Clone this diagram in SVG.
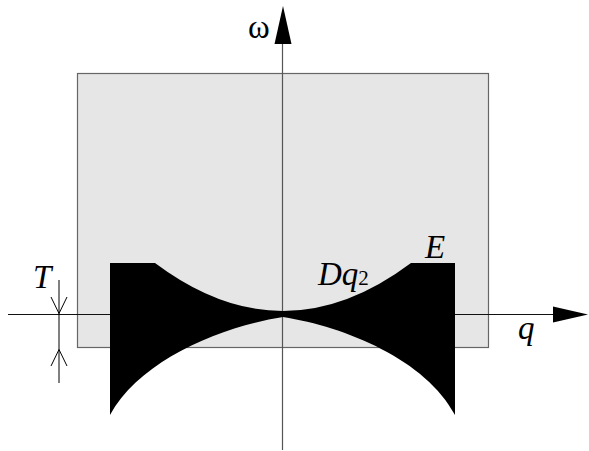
<svg xmlns="http://www.w3.org/2000/svg" width="589" height="451" viewBox="0 0 589 451">
<style>
.lbl{font-family:"Liberation Serif","Times New Roman",serif;font-style:italic;font-size:33px;fill:#000}
.up{font-family:"Liberation Serif","Times New Roman",serif;fill:#000}
.dim{stroke:#000;stroke-width:1;fill:none}
</style>
<rect width="589" height="451" fill="#fff"/>
<g id="region">
<rect x="77.5" y="73.5" width="411" height="274" fill="#e6e6e6" stroke="#666" stroke-width="1.2"/>
</g>
<g id="axes">
<line x1="8" y1="314.5" x2="556" y2="314.5" stroke="#111" stroke-width="1"/>
<polygon points="553,306.5 588,314.5 553,322.5" fill="#000"/>
<line x1="282.5" y1="450" x2="282.5" y2="40" stroke="#555" stroke-width="1.2"/>
<polygon points="283,6 274.5,44 291.5,44" fill="#000"/>
</g>
<g id="band">
<path d="M110,263 H155 Q219,311 283,311 Q347,311 411,263 H455 V415 C426,360 346,327 283,317 C220,327 140,360 110,415 Z" fill="#000"/>
</g>
<g id="dimension">
<line class="dim" x1="59" y1="280" x2="59" y2="383"/>
<polyline class="dim" points="51,297 59,313.5 67,297"/>
<polyline class="dim" points="51,366 59,349.5 67,366"/>
</g>
<g id="labels">
<text class="up" x="248" y="38" font-size="33">ω</text>
<text class="lbl" x="33" y="288">T</text>
<text class="lbl" x="425" y="258">E</text>
<text class="lbl" x="318" y="285" font-size="34">Dq<tspan font-style="normal" font-size="21">2</tspan></text>
<text class="lbl" x="518" y="339">q</text>
</g>
</svg>
